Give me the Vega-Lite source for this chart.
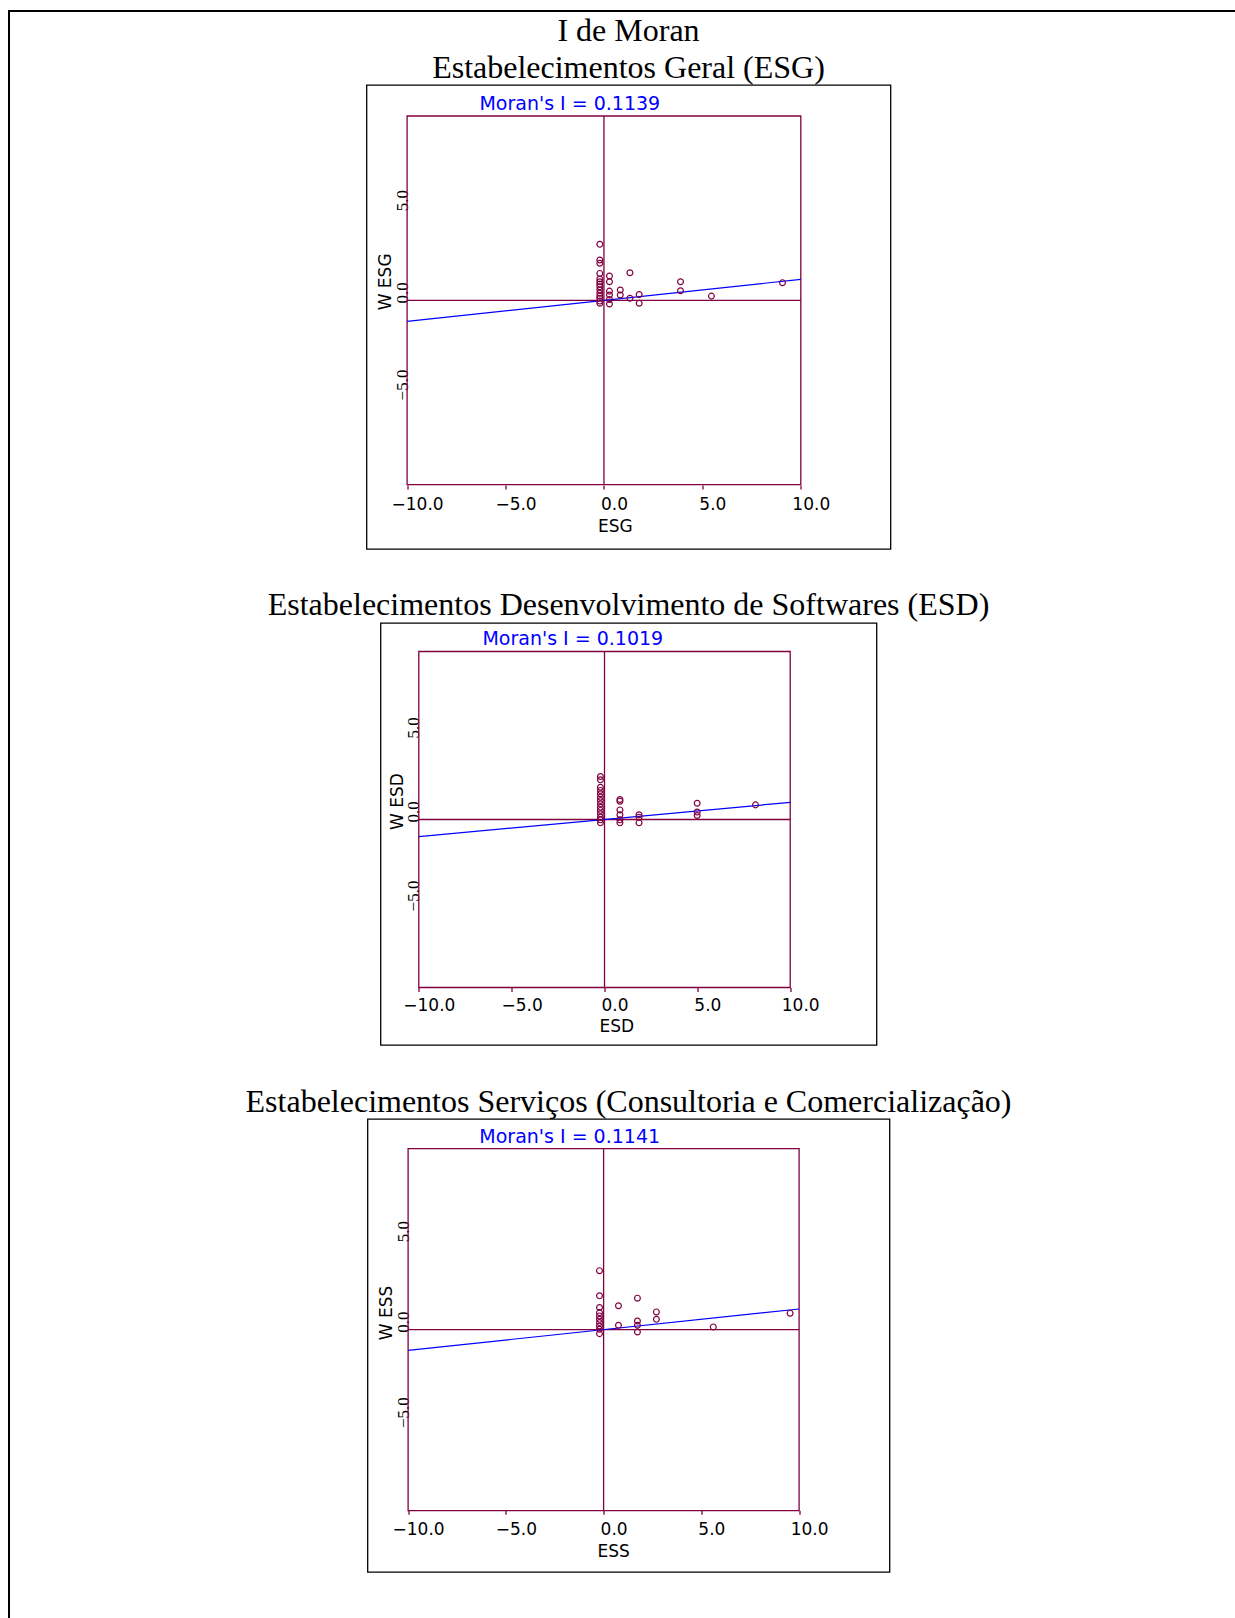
{
  "$schema": "https://vega.github.io/schema/vega-lite/v6.json",
  "background": "white",
  "padding": {"left": 8, "top": 10, "right": 0, "bottom": 0},
  "datasets": {
    "esg": [
      {"x": -0.21, "y": 3.04}, {"x": -0.21, "y": 2.19}, {"x": -0.21, "y": 2.01}, {"x": -0.21, "y": 1.46},
      {"x": -0.21, "y": 1.16}, {"x": -0.21, "y": 1.01}, {"x": -0.21, "y": 0.88}, {"x": -0.21, "y": 0.74},
      {"x": -0.21, "y": 0.56}, {"x": -0.21, "y": 0.38}, {"x": -0.21, "y": 0.23}, {"x": -0.21, "y": 0.11},
      {"x": -0.21, "y": -0.04}, {"x": -0.21, "y": -0.16},
      {"x": 0.28, "y": 1.32}, {"x": 0.28, "y": 1.01}, {"x": 0.28, "y": 0.5}, {"x": 0.28, "y": 0.29},
      {"x": 0.28, "y": 0.05}, {"x": 0.28, "y": -0.2},
      {"x": 0.83, "y": 0.56}, {"x": 0.83, "y": 0.29},
      {"x": 1.32, "y": 1.5}, {"x": 1.32, "y": 0.11},
      {"x": 1.79, "y": 0.32}, {"x": 1.79, "y": -0.16},
      {"x": 3.89, "y": 1.01}, {"x": 3.89, "y": 0.52},
      {"x": 5.46, "y": 0.23},
      {"x": 9.07, "y": 0.96}
    ],
    "esd": [
      {"x": -0.22, "y": 2.56}, {"x": -0.22, "y": 2.36}, {"x": -0.22, "y": 1.92}, {"x": -0.22, "y": 1.73},
      {"x": -0.22, "y": 1.53}, {"x": -0.22, "y": 1.33}, {"x": -0.22, "y": 1.13}, {"x": -0.22, "y": 0.93},
      {"x": -0.22, "y": 0.73}, {"x": -0.22, "y": 0.54}, {"x": -0.22, "y": 0.34}, {"x": -0.22, "y": 0.14},
      {"x": -0.22, "y": -0.02}, {"x": -0.22, "y": -0.2},
      {"x": 0.83, "y": 1.19}, {"x": 0.83, "y": 1.09}, {"x": 0.83, "y": 0.57}, {"x": 0.83, "y": 0.28},
      {"x": 0.83, "y": -0.02}, {"x": 0.83, "y": -0.2},
      {"x": 1.86, "y": 0.28}, {"x": 1.86, "y": 0.14}, {"x": 1.86, "y": -0.2},
      {"x": 4.99, "y": 0.97}, {"x": 4.99, "y": 0.44}, {"x": 4.99, "y": 0.24},
      {"x": 8.13, "y": 0.87}
    ],
    "ess": [
      {"x": -0.21, "y": 3.26}, {"x": -0.21, "y": 1.87}, {"x": -0.21, "y": 1.22}, {"x": -0.21, "y": 0.94},
      {"x": -0.21, "y": 0.76}, {"x": -0.21, "y": 0.57}, {"x": -0.21, "y": 0.39}, {"x": -0.21, "y": 0.2},
      {"x": -0.21, "y": 0.02}, {"x": -0.21, "y": -0.22},
      {"x": 0.76, "y": 1.32}, {"x": 0.76, "y": 0.24},
      {"x": 1.73, "y": 1.74}, {"x": 1.73, "y": 0.48}, {"x": 1.73, "y": 0.24}, {"x": 1.73, "y": -0.13},
      {"x": 2.7, "y": 0.98}, {"x": 2.7, "y": 0.57},
      {"x": 5.61, "y": 0.15},
      {"x": 9.54, "y": 0.91}
    ],
    "esg_line": [{"x": -10, "y": -1.139}, {"x": 10, "y": 1.139}],
    "esd_line": [{"x": -10, "y": -1.019}, {"x": 10, "y": 1.019}],
    "ess_line": [{"x": -10, "y": -1.141}, {"x": 10, "y": 1.141}],
    "one": [{}],
    "none": []
  },
  "config": {
    "axisX": {
      "domain": false, "grid": false, "ticks": true, "tickColor": "#800040", "tickSize": 4, "tickWidth": 1.3,
      "labelFont": "DejaVu Sans", "labelFontSize": 17, "labelColor": "black", "labelOffset": 10, "labelAngle": 0,
      "labelFlush": false, "labelOverlap": false,
      "titleFont": "DejaVu Sans", "titleFontSize": 17, "titleFontWeight": "normal", "titleColor": "black",
      "titleBaseline": "alphabetic", "titleAlign": "center"
    },
    "axisY": {
      "domain": false, "grid": false, "ticks": false, "tickSize": 0,
      "labelFont": "Liberation Serif", "labelFontSize": 17, "labelColor": "black", "labelAngle": 270,
      "labelAlign": "center", "labelBaseline": "alphabetic", "labelPadding": 0, "labelOffset": -8,
      "labelFlush": false, "labelOverlap": false,
      "titleFont": "DejaVu Sans", "titleFontSize": 17, "titleFontWeight": "normal", "titleColor": "black",
      "titleAngle": 270, "titleBaseline": "alphabetic", "titleAlign": "center"
    },
    "title": {"font": "Liberation Serif", "fontSize": 32, "fontWeight": "normal", "color": "black", "baseline": "bottom", "lineHeight": 37, "frame": "group", "anchor": "middle"}
  },
  "spacing": 0,
  "vconcat": [
    {
      "width": 1240, "height": 2,
      "view": {"stroke": null, "fill": "black"},
      "data": {"name": "none"}, "mark": "point", "encoding": {}
    },
    {
      "spacing": 234.5,
      "hconcat": [
        {
          "width": 2, "height": 1620,
          "view": {"stroke": null, "fill": "black"},
          "data": {"name": "none"}, "mark": "point", "encoding": {}
        },
        {
          "spacing": 0,
          "vconcat": [
            {
              "width": 1, "height": 1.3,
              "view": {"stroke": null, "fill": null},
              "data": {"name": "none"}, "mark": "point", "encoding": {}
            },
            {
              "bounds": "flush", "spacing": 74, "center": true,
              "vconcat": [
                {
                  "width": 524, "height": 464,
                  "view": {"stroke": "black", "strokeWidth": 1.3, "fill": "white"},
                  "title": {"text": ["I de Moran", "Estabelecimentos Geral (ESG)"], "offset": 0},
                  "layer": [
                    {
                      "data": {"name": "one"},
                      "mark": {"type": "rect", "fill": "transparent", "stroke": "#800040", "strokeWidth": 1.3},
                      "encoding": {
                        "x": {"datum": -10, "type": "quantitative", "scale": {"domain": [-12.0625, 14.557], "nice": false, "zero": false}, "axis": {"orient": "bottom", "offset": -64, "values": [-10, -5, 0, 5, 10], "format": ".1f", "title": "ESG", "titleX": 248.3, "titleY": 46.7, "labelPadding": 7.5}},
                        "x2": {"datum": 10},
                        "y": {"datum": -10, "type": "quantitative", "scale": {"domain": [-13.488, 11.682], "nice": false, "zero": false}, "axis": {"orient": "left", "offset": -40.6, "values": [-5, 0, 5], "format": ".1f", "title": "W ESG", "titleX": -16.3, "titleY": 196.4}},
                        "y2": {"datum": 10}
                      }
                    },
                    {
                      "data": {"name": "one"},
                      "mark": {"type": "rule", "color": "#800040", "strokeWidth": 1.3},
                      "encoding": {
                        "x": {"datum": 0, "type": "quantitative", "scale": {"domain": [-12.0625, 14.557], "nice": false, "zero": false}, "axis": {"orient": "bottom", "offset": -64, "values": [-10, -5, 0, 5, 10], "format": ".1f", "title": "ESG", "titleX": 248.3, "titleY": 46.7, "labelPadding": 7.5}},
                        "y": {"datum": -10, "type": "quantitative", "scale": {"domain": [-13.488, 11.682], "nice": false, "zero": false}, "axis": {"orient": "left", "offset": -40.6, "values": [-5, 0, 5], "format": ".1f", "title": "W ESG", "titleX": -16.3, "titleY": 196.4}},
                        "y2": {"datum": 10}
                      }
                    },
                    {
                      "data": {"name": "one"},
                      "mark": {"type": "rule", "color": "#800040", "strokeWidth": 1.3},
                      "encoding": {
                        "y": {"datum": 0, "type": "quantitative", "scale": {"domain": [-13.488, 11.682], "nice": false, "zero": false}, "axis": {"orient": "left", "offset": -40.6, "values": [-5, 0, 5], "format": ".1f", "title": "W ESG", "titleX": -16.3, "titleY": 196.4}},
                        "x": {"datum": -10, "type": "quantitative", "scale": {"domain": [-12.0625, 14.557], "nice": false, "zero": false}, "axis": {"orient": "bottom", "offset": -64, "values": [-10, -5, 0, 5, 10], "format": ".1f", "title": "ESG", "titleX": 248.3, "titleY": 46.7, "labelPadding": 7.5}},
                        "x2": {"datum": 10}
                      }
                    },
                    {
                      "data": {"name": "esg_line"},
                      "mark": {"type": "line", "color": "#0000FF", "strokeWidth": 1.2},
                      "encoding": {
                        "x": {"field": "x", "type": "quantitative", "scale": {"domain": [-12.0625, 14.557], "nice": false, "zero": false}, "axis": {"orient": "bottom", "offset": -64, "values": [-10, -5, 0, 5, 10], "format": ".1f", "title": "ESG", "titleX": 248.3, "titleY": 46.7, "labelPadding": 7.5}},
                        "y": {"field": "y", "type": "quantitative", "scale": {"domain": [-13.488, 11.682], "nice": false, "zero": false}, "axis": {"orient": "left", "offset": -40.6, "values": [-5, 0, 5], "format": ".1f", "title": "W ESG", "titleX": -16.3, "titleY": 196.4}}
                      }
                    },
                    {
                      "data": {"name": "esg"},
                      "mark": {"type": "point", "shape": "circle", "filled": false, "color": "#800040", "size": 34, "strokeWidth": 1.2, "opacity": 1},
                      "encoding": {
                        "x": {"field": "x", "type": "quantitative", "scale": {"domain": [-12.0625, 14.557], "nice": false, "zero": false}, "axis": {"orient": "bottom", "offset": -64, "values": [-10, -5, 0, 5, 10], "format": ".1f", "title": "ESG", "titleX": 248.3, "titleY": 46.7, "labelPadding": 7.5}},
                        "y": {"field": "y", "type": "quantitative", "scale": {"domain": [-13.488, 11.682], "nice": false, "zero": false}, "axis": {"orient": "left", "offset": -40.6, "values": [-5, 0, 5], "format": ".1f", "title": "W ESG", "titleX": -16.3, "titleY": 196.4}}
                      }
                    },
                    {
                      "data": {"name": "one"},
                      "mark": {"type": "text", "font": "DejaVu Sans", "fontSize": 19, "color": "#0000FF", "align": "center", "baseline": "alphabetic"},
                      "encoding": {
                        "x": {"datum": -1.735, "type": "quantitative", "scale": {"domain": [-12.0625, 14.557], "nice": false, "zero": false}, "axis": {"orient": "bottom", "offset": -64, "values": [-10, -5, 0, 5, 10], "format": ".1f", "title": "ESG", "titleX": 248.3, "titleY": 46.7, "labelPadding": 7.5}},
                        "y": {"datum": 10.34, "type": "quantitative", "scale": {"domain": [-13.488, 11.682], "nice": false, "zero": false}, "axis": {"orient": "left", "offset": -40.6, "values": [-5, 0, 5], "format": ".1f", "title": "W ESG", "titleX": -16.3, "titleY": 196.4}},
                        "text": {"value": "Moran's I = 0.1139"}
                      }
                    }
                  ]
                },
                {
                  "width": 496, "height": 422,
                  "view": {"stroke": "black", "strokeWidth": 1.3, "fill": "white"},
                  "title": {"text": "Estabelecimentos Desenvolvimento de Softwares (ESD)", "offset": 1},
                  "layer": [
                    {
                      "data": {"name": "one"},
                      "mark": {"type": "rect", "fill": "transparent", "stroke": "#800040", "strokeWidth": 1.3},
                      "encoding": {
                        "x": {"datum": -10, "type": "quantitative", "scale": {"domain": [-12.0625, 14.647], "nice": false, "zero": false}, "axis": {"orient": "bottom", "offset": -57.5, "values": [-10, -5, 0, 5, 10], "format": ".1f", "title": "ESD", "titleX": 235.7, "titleY": 43.7, "labelPadding": 6.2}},
                        "x2": {"datum": 10},
                        "y": {"datum": -10, "type": "quantitative", "scale": {"domain": [-13.423, 11.696], "nice": false, "zero": false}, "axis": {"orient": "left", "offset": -38.3, "values": [-5, 0, 5], "format": ".1f", "title": "W ESD", "titleX": -16, "titleY": 178}},
                        "y2": {"datum": 10}
                      }
                    },
                    {
                      "data": {"name": "one"},
                      "mark": {"type": "rule", "color": "#800040", "strokeWidth": 1.3},
                      "encoding": {
                        "x": {"datum": 0, "type": "quantitative", "scale": {"domain": [-12.0625, 14.647], "nice": false, "zero": false}, "axis": {"orient": "bottom", "offset": -57.5, "values": [-10, -5, 0, 5, 10], "format": ".1f", "title": "ESD", "titleX": 235.7, "titleY": 43.7, "labelPadding": 6.2}},
                        "y": {"datum": -10, "type": "quantitative", "scale": {"domain": [-13.423, 11.696], "nice": false, "zero": false}, "axis": {"orient": "left", "offset": -38.3, "values": [-5, 0, 5], "format": ".1f", "title": "W ESD", "titleX": -16, "titleY": 178}},
                        "y2": {"datum": 10}
                      }
                    },
                    {
                      "data": {"name": "one"},
                      "mark": {"type": "rule", "color": "#800040", "strokeWidth": 1.3},
                      "encoding": {
                        "y": {"datum": 0, "type": "quantitative", "scale": {"domain": [-13.423, 11.696], "nice": false, "zero": false}, "axis": {"orient": "left", "offset": -38.3, "values": [-5, 0, 5], "format": ".1f", "title": "W ESD", "titleX": -16, "titleY": 178}},
                        "x": {"datum": -10, "type": "quantitative", "scale": {"domain": [-12.0625, 14.647], "nice": false, "zero": false}, "axis": {"orient": "bottom", "offset": -57.5, "values": [-10, -5, 0, 5, 10], "format": ".1f", "title": "ESD", "titleX": 235.7, "titleY": 43.7, "labelPadding": 6.2}},
                        "x2": {"datum": 10}
                      }
                    },
                    {
                      "data": {"name": "esd_line"},
                      "mark": {"type": "line", "color": "#0000FF", "strokeWidth": 1.2},
                      "encoding": {
                        "x": {"field": "x", "type": "quantitative", "scale": {"domain": [-12.0625, 14.647], "nice": false, "zero": false}, "axis": {"orient": "bottom", "offset": -57.5, "values": [-10, -5, 0, 5, 10], "format": ".1f", "title": "ESD", "titleX": 235.7, "titleY": 43.7, "labelPadding": 6.2}},
                        "y": {"field": "y", "type": "quantitative", "scale": {"domain": [-13.423, 11.696], "nice": false, "zero": false}, "axis": {"orient": "left", "offset": -38.3, "values": [-5, 0, 5], "format": ".1f", "title": "W ESD", "titleX": -16, "titleY": 178}}
                      }
                    },
                    {
                      "data": {"name": "esd"},
                      "mark": {"type": "point", "shape": "circle", "filled": false, "color": "#800040", "size": 34, "strokeWidth": 1.2, "opacity": 1},
                      "encoding": {
                        "x": {"field": "x", "type": "quantitative", "scale": {"domain": [-12.0625, 14.647], "nice": false, "zero": false}, "axis": {"orient": "bottom", "offset": -57.5, "values": [-10, -5, 0, 5, 10], "format": ".1f", "title": "ESD", "titleX": 235.7, "titleY": 43.7, "labelPadding": 6.2}},
                        "y": {"field": "y", "type": "quantitative", "scale": {"domain": [-13.423, 11.696], "nice": false, "zero": false}, "axis": {"orient": "left", "offset": -38.3, "values": [-5, 0, 5], "format": ".1f", "title": "W ESD", "titleX": -16, "titleY": 178}}
                      }
                    },
                    {
                      "data": {"name": "one"},
                      "mark": {"type": "text", "font": "DejaVu Sans", "fontSize": 19, "color": "#0000FF", "align": "center", "baseline": "alphabetic"},
                      "encoding": {
                        "x": {"datum": -1.707, "type": "quantitative", "scale": {"domain": [-12.0625, 14.647], "nice": false, "zero": false}, "axis": {"orient": "bottom", "offset": -57.5, "values": [-10, -5, 0, 5, 10], "format": ".1f", "title": "ESD", "titleX": 235.7, "titleY": 43.7, "labelPadding": 6.2}},
                        "y": {"datum": 10.357, "type": "quantitative", "scale": {"domain": [-13.423, 11.696], "nice": false, "zero": false}, "axis": {"orient": "left", "offset": -38.3, "values": [-5, 0, 5], "format": ".1f", "title": "W ESD", "titleX": -16, "titleY": 178}},
                        "text": {"value": "Moran's I = 0.1019"}
                      }
                    }
                  ]
                },
                {
                  "width": 522, "height": 453,
                  "view": {"stroke": "black", "strokeWidth": 1.3, "fill": "white"},
                  "title": {"text": "Estabelecimentos Serviços (Consultoria e Comercialização)", "offset": 0},
                  "layer": [
                    {
                      "data": {"name": "one"},
                      "mark": {"type": "rect", "fill": "transparent", "stroke": "#800040", "strokeWidth": 1.3},
                      "encoding": {
                        "x": {"datum": -10, "type": "quantitative", "scale": {"domain": [-12.077, 14.624], "nice": false, "zero": false}, "axis": {"orient": "bottom", "offset": -61.7, "values": [-10, -5, 0, 5, 10], "format": ".1f", "title": "ESS", "titleX": 245.6, "titleY": 45.7, "labelPadding": 6.9}},
                        "x2": {"datum": 10},
                        "y": {"datum": -10, "type": "quantitative", "scale": {"domain": [-13.393, 11.641], "nice": false, "zero": false}, "axis": {"orient": "left", "offset": -40.6, "values": [-5, 0, 5], "format": ".1f", "title": "W ESS", "titleX": -16.5, "titleY": 193.5}},
                        "y2": {"datum": 10}
                      }
                    },
                    {
                      "data": {"name": "one"},
                      "mark": {"type": "rule", "color": "#800040", "strokeWidth": 1.3},
                      "encoding": {
                        "x": {"datum": 0, "type": "quantitative", "scale": {"domain": [-12.077, 14.624], "nice": false, "zero": false}, "axis": {"orient": "bottom", "offset": -61.7, "values": [-10, -5, 0, 5, 10], "format": ".1f", "title": "ESS", "titleX": 245.6, "titleY": 45.7, "labelPadding": 6.9}},
                        "y": {"datum": -10, "type": "quantitative", "scale": {"domain": [-13.393, 11.641], "nice": false, "zero": false}, "axis": {"orient": "left", "offset": -40.6, "values": [-5, 0, 5], "format": ".1f", "title": "W ESS", "titleX": -16.5, "titleY": 193.5}},
                        "y2": {"datum": 10}
                      }
                    },
                    {
                      "data": {"name": "one"},
                      "mark": {"type": "rule", "color": "#800040", "strokeWidth": 1.3},
                      "encoding": {
                        "y": {"datum": 0, "type": "quantitative", "scale": {"domain": [-13.393, 11.641], "nice": false, "zero": false}, "axis": {"orient": "left", "offset": -40.6, "values": [-5, 0, 5], "format": ".1f", "title": "W ESS", "titleX": -16.5, "titleY": 193.5}},
                        "x": {"datum": -10, "type": "quantitative", "scale": {"domain": [-12.077, 14.624], "nice": false, "zero": false}, "axis": {"orient": "bottom", "offset": -61.7, "values": [-10, -5, 0, 5, 10], "format": ".1f", "title": "ESS", "titleX": 245.6, "titleY": 45.7, "labelPadding": 6.9}},
                        "x2": {"datum": 10}
                      }
                    },
                    {
                      "data": {"name": "ess_line"},
                      "mark": {"type": "line", "color": "#0000FF", "strokeWidth": 1.2},
                      "encoding": {
                        "x": {"field": "x", "type": "quantitative", "scale": {"domain": [-12.077, 14.624], "nice": false, "zero": false}, "axis": {"orient": "bottom", "offset": -61.7, "values": [-10, -5, 0, 5, 10], "format": ".1f", "title": "ESS", "titleX": 245.6, "titleY": 45.7, "labelPadding": 6.9}},
                        "y": {"field": "y", "type": "quantitative", "scale": {"domain": [-13.393, 11.641], "nice": false, "zero": false}, "axis": {"orient": "left", "offset": -40.6, "values": [-5, 0, 5], "format": ".1f", "title": "W ESS", "titleX": -16.5, "titleY": 193.5}}
                      }
                    },
                    {
                      "data": {"name": "ess"},
                      "mark": {"type": "point", "shape": "circle", "filled": false, "color": "#800040", "size": 34, "strokeWidth": 1.2, "opacity": 1},
                      "encoding": {
                        "x": {"field": "x", "type": "quantitative", "scale": {"domain": [-12.077, 14.624], "nice": false, "zero": false}, "axis": {"orient": "bottom", "offset": -61.7, "values": [-10, -5, 0, 5, 10], "format": ".1f", "title": "ESS", "titleX": 245.6, "titleY": 45.7, "labelPadding": 6.9}},
                        "y": {"field": "y", "type": "quantitative", "scale": {"domain": [-13.393, 11.641], "nice": false, "zero": false}, "axis": {"orient": "left", "offset": -40.6, "values": [-5, 0, 5], "format": ".1f", "title": "W ESS", "titleX": -16.5, "titleY": 193.5}}
                      }
                    },
                    {
                      "data": {"name": "one"},
                      "mark": {"type": "text", "font": "DejaVu Sans", "fontSize": 19, "color": "#0000FF", "align": "center", "baseline": "alphabetic"},
                      "encoding": {
                        "x": {"datum": -1.734, "type": "quantitative", "scale": {"domain": [-12.077, 14.624], "nice": false, "zero": false}, "axis": {"orient": "bottom", "offset": -61.7, "values": [-10, -5, 0, 5, 10], "format": ".1f", "title": "ESS", "titleX": 245.6, "titleY": 45.7, "labelPadding": 6.9}},
                        "y": {"datum": 10.33, "type": "quantitative", "scale": {"domain": [-13.393, 11.641], "nice": false, "zero": false}, "axis": {"orient": "left", "offset": -40.6, "values": [-5, 0, 5], "format": ".1f", "title": "W ESS", "titleX": -16.5, "titleY": 193.5}},
                        "text": {"value": "Moran's I = 0.1141"}
                      }
                    }
                  ]
                }
              ]
            }
          ]
        }
      ]
    }
  ]
}
